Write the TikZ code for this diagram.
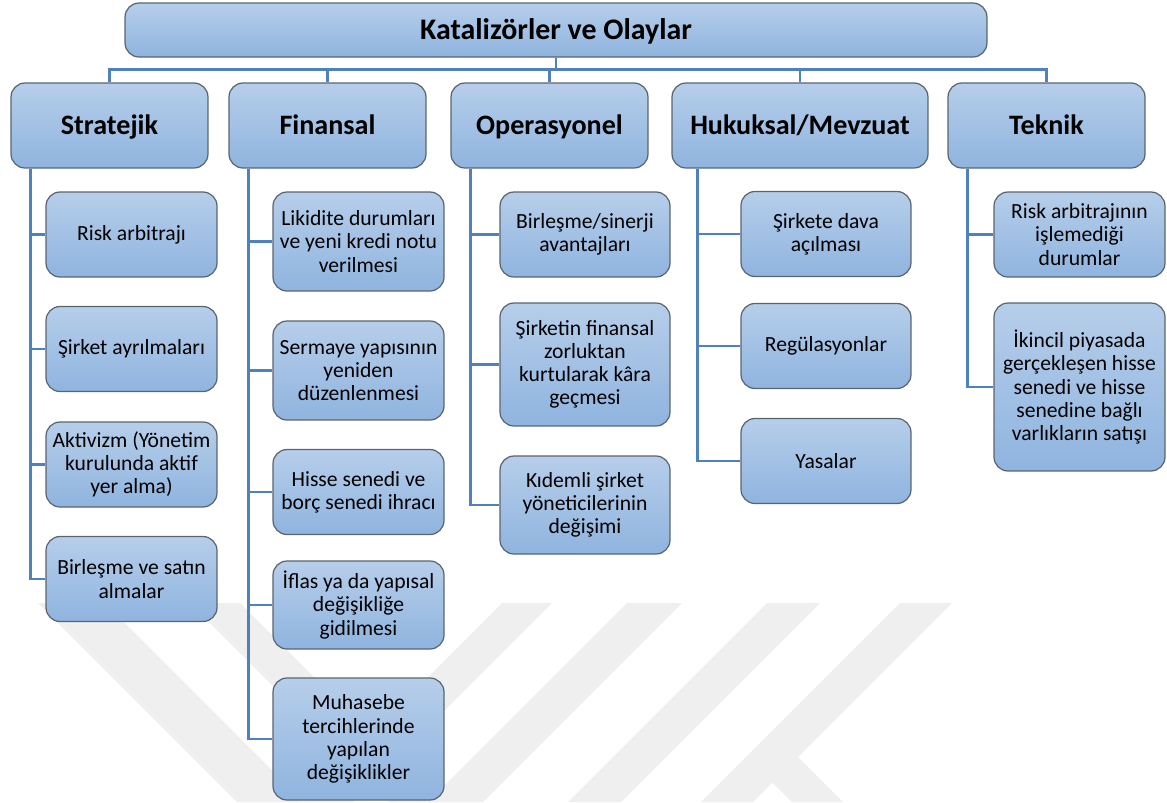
\documentclass[tikz,border=0pt]{standalone}
\usepackage{fontspec}
\setmainfont{Carlito}
\definecolor{linkblue}{RGB}{79,129,189}
\definecolor{boxtop}{RGB}{182,206,234}
\definecolor{boxbot}{RGB}{143,180,223}
\definecolor{boxline}{RGB}{90,100,112}
\definecolor{wmgray}{RGB}{239,239,239}

\begin{document}
\begin{tikzpicture}[x=0.02cm, y=-0.02cm,
    every node/.style={font={\fontsize{12.3}{13.2}\selectfont}},
    box/.style={draw=boxline, line width=0.7pt, rounded corners=0.28cm, top color=boxtop, bottom color=boxbot, align=center, inner sep=2pt},
    item/.style={box, minimum width=3.42cm, minimum height=1.7cm},
    cat/.style={box, minimum width=3.94cm, minimum height=1.7cm, text height=12pt, text depth=1.7pt, font={\fontsize{16}{19}\selectfont\bfseries}},
    link/.style={draw=linkblue, line width=1.6pt}]
    \useasboundingbox (0,0) rectangle (1167,802);

    % watermark in the background
    \fill[wmgray] (38,603) -- (105,603) -- (304,802) -- (237,802) -- cycle;
    \fill[wmgray] (190,603) -- (240,603) -- (439,802) -- (389,802) -- cycle;
    \fill[wmgray] (502,603) -- (552,603) -- (353,802) -- (303,802) -- cycle;
    \fill[wmgray] (627,603) -- (682,603) -- (483,802) -- (428,802) -- cycle;
    \fill[wmgray] (767,603) -- (820,603) -- (621,802) -- (568,802) -- cycle;
    \fill[wmgray] (900,603) -- (952,603) -- (753,802) -- (701,802) -- cycle;
    \fill[wmgray] (798,757) -- (843,802) -- (792,802) -- (772,782) -- cycle;

    \node[box, minimum width=17.24cm, minimum height=1.08cm, text height=12.5pt, text depth=1.5pt, font={\fontsize{17}{20}\selectfont\bfseries}] (title) at (556,30) {Katalizörler ve Olaylar};

    \node[cat] (strat) at (109.5,125.5) {Stratejik};
    \node[cat] (fin) at (327.5,125.5) {Finansal};
    \node[cat] (oper) at (549.5,125.5) {Operasyonel};
    \node[cat, minimum width=5.12cm] (hukuk) at (800,125.5) {Hukuksal/Mevzuat};
    \node[cat] (tekn) at (1046.5,125.5) {Teknik};

    \node[item] (risk) at (131.5,234.5) {Risk arbitrajı};
    \node[item] (ayrilma) at (131.5,349) {Şirket ayrılmaları};
    \node[item] (aktivizm) at (131.5,464.5) {Aktivizm (Yönetim\\kurulunda aktif\\yer alma)};
    \node[item] (birlesme) at (131.5,579) {Birleşme ve satın\\almalar};

    \node[item, minimum height=1.98cm] (likidite) at (358.5,241.5) {Likidite durumları\\ve yeni kredi notu\\verilmesi};
    \node[item, minimum height=1.98cm] (sermaye) at (358.5,370.5) {Sermaye yapısının\\yeniden\\düzenlenmesi};
    \node[item] (hisse) at (358.5,492) {Hisse senedi ve\\borç senedi ihracı};
    \node[item, minimum height=1.76cm] (iflas) at (358.5,605) {İflas ya da yapısal\\değişikliğe\\gidilmesi};
    \node[item, minimum height=2.44cm] (muhasebe) at (358.5,739) {Muhasebe\\tercihlerinde\\yapılan\\değişiklikler};

    \node[item, minimum width=3.4cm] (sinerji) at (585,234.5) {Birleşme/sinerji\\avantajları};
    \node[item, minimum width=3.4cm, minimum height=2.46cm] (kara) at (585,364.5) {Şirketin finansal\\zorluktan\\kurtularak kâra\\geçmesi};
    \node[item, minimum width=3.4cm, minimum height=1.96cm] (kidemli) at (585,505) {Kıdemli şirket\\yöneticilerinin\\değişimi};

    \node[item, minimum width=3.4cm] (dava) at (826,234) {Şirkete dava\\açılması};
    \node[item, minimum width=3.4cm] (regul) at (826,346) {Regülasyonlar};
    \node[item, minimum width=3.4cm] (yasa) at (826,461) {Yasalar};

    \node[item] (riskarb) at (1079.5,234.5) {Risk arbitrajının\\işlemediği\\durumlar};
    \node[item, minimum height=3.36cm] (ikincil) at (1079.5,387) {İkincil piyasada\\gerçekleşen hisse\\senedi ve hisse\\senedine bağlı\\varlıkların satışı};

    % connectors
    \foreach \c in {strat,fin,oper,hukuk,tekn}
        \draw[link] (title.south) -- ++(0,12) -| (\c.north);
    \foreach \c in {risk,ayrilma,aktivizm,birlesme}
        \draw[link] ([xshift=4mm]strat.south west) |- (\c.west);
    \foreach \c in {likidite,sermaye,hisse,iflas,muhasebe}
        \draw[link] ([xshift=4mm]fin.south west) |- (\c.west);
    \foreach \c in {sinerji,kara,kidemli}
        \draw[link] ([xshift=4mm]oper.south west) |- (\c.west);
    \foreach \c in {dava,regul,yasa}
        \draw[link] ([xshift=5.2mm]hukuk.south west) |- (\c.west);
    \foreach \c in {riskarb,ikincil}
        \draw[link] ([xshift=4mm]tekn.south west) |- (\c.west);
\end{tikzpicture}
\end{document}
